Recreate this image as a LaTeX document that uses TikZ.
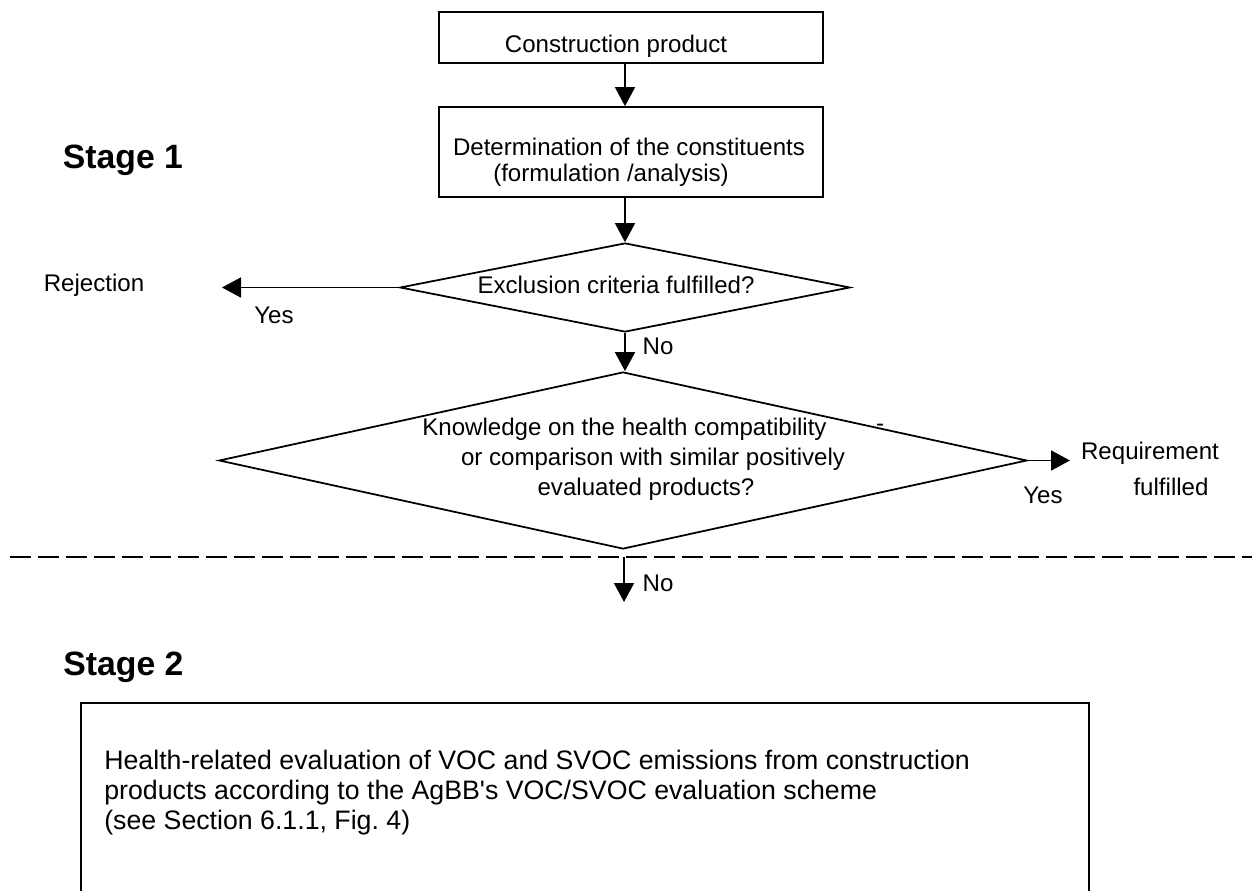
\documentclass[tikz,border=0pt]{standalone}
\usepackage{fontspec}
\setmainfont{Liberation Sans}
\usetikzlibrary{arrows.meta,shapes.geometric}

\begin{document}
\begin{tikzpicture}[
    font=\fontsize{13.7}{17}\selectfont,
    box/.style={draw, line width=1pt, rectangle, inner sep=0pt},
    decision/.style={draw, line width=1pt, diamond, inner sep=0pt},
    arr/.style={-{Triangle[length=0.38cm,width=0.4cm]}, line width=1pt},
    txt/.style={inner sep=0pt},
    stage/.style={inner sep=0pt, font=\fontsize{19.2}{23}\selectfont\bfseries}
  ]
    \useasboundingbox (0,0) rectangle (25.04,-17.82);

    % stage 1
    \node[stage] (stage1) at (2.46,-3.2) {Stage 1};

    \node[box, minimum width=7.68cm, minimum height=1.02cm] (prod) at (12.62,-0.75) {};
    \node[txt] (prodtxt) at (12.32,-0.92) {Construction product};

    \node[box, minimum width=7.68cm, minimum height=1.8cm] (det) at (12.62,-3.04) {};
    \node[txt] (dettxt1) at (12.58,-2.94) {Determination of the constituents};
    \node[txt] (dettxt2) at (12.22,-3.5) {(formulation /analysis)};

    \node[decision, minimum width=9cm, minimum height=1.78cm] (excl) at (12.5,-5.75) {};
    \node[txt] (excltxt) at (12.32,-5.7) {Exclusion criteria fulfilled?};

    \node[decision, minimum width=16.16cm, minimum height=3.54cm] (quest) at (12.46,-9.21) {};
    \node[txt] (questtxt1) at (12.49,-8.58) {Knowledge on the health compatibility};
    \node[txt] (questtxt2) at (13.06,-9.18) {or comparison with similar positively};
    \node[txt] (questtxt3) at (12.92,-9.78) {evaluated products?};
    \node[txt] (dash) at (17.6,-8.56) {-};

    \draw[arr] (prod.south -| excl.north) -- (det.north -| excl.north);
    \draw[arr] (det.south -| excl.north) -- (excl.north);

    % rejection branch
    \coordinate (rejtip) at (4.44,-5.75);
    \node[txt] (rej) at (1.88,-5.7) {Rejection};
    \draw[arr] (excl.west) -- (rejtip);
    \node[txt] (yes1) at (5.48,-6.3) {Yes};

    \draw[arr] (excl.south) -- (excl.south |- quest.north);
    \node[txt] (no1) at (13.16,-6.92) {No};

    % requirement fulfilled
    \coordinate (reqtip) at (21.4,-9.21);
    \draw[arr] (quest.east) -- (reqtip);
    \node[txt] (req1) at (23.0,-9.06) {Requirement};
    \node[txt] (req2) at (23.42,-9.74) {fulfilled};
    \node[txt] (yes2) at (20.86,-9.9) {Yes};

    % border between the stages
    \draw[line width=1.5pt, dash pattern=on 0.42cm off 0.14cm] (0.2,-11.14) -- (25.04,-11.14);
    \coordinate (cut) at (12.48,-11.14);
    \coordinate (cutend) at (12.48,-12.04);
    \draw[arr] (cut) -- (cutend);
    \node[txt] (no2) at (13.16,-11.66) {No};

    % stage 2
    \node[stage] (stage2) at (2.47,-13.34) {Stage 2};
    \draw[line width=0.6pt] (1.62,-17.82) -- (1.62,-14.06) -- (21.78,-14.06) -- (21.78,-17.82);
    \node[txt, anchor=west, align=left, font=\fontsize{15.2}{17.1}\selectfont] (evaltxt) at (2.08,-15.86)
        {Health-related evaluation of VOC and SVOC emissions from construction\\
         products according to the AgBB\textquotesingle s VOC/SVOC evaluation scheme\\
         (see Section 6.1.1, Fig.~4)};
\end{tikzpicture}
\end{document}
